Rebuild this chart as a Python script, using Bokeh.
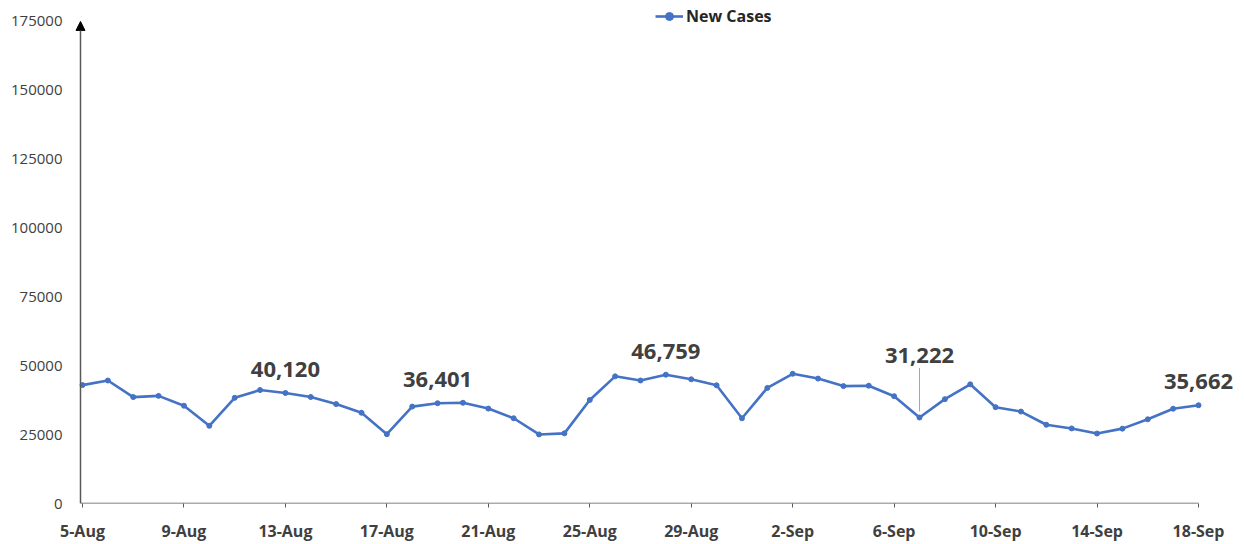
import pandas as pd
from bokeh.plotting import figure
from bokeh.models import (Range1d, FixedTicker, Arrow, NormalHead, Legend, LegendItem,
                          ColumnDataSource, BasicTickFormatter, LabelSet)
from bokeh.core.properties import value
from bokeh.embed import file_html
from bokeh.resources import INLINE

# ---- data ----
dates = [d.strftime("%-d-%b") for d in pd.date_range("2021-08-05", "2021-09-18", freq="D")]
new_cases = [42982, 44643, 38628, 39070, 35499, 28204, 38353, 41195, 40120, 38667,
             36083, 32937, 25166, 35178, 36401, 36571, 34457, 30948, 25072, 25467,
             37593, 46164, 44658, 46759, 45083, 42909, 30941, 41965, 47092, 45352,
             42618, 42766, 38948, 31222, 37875, 43263, 34973, 33376, 28591, 27254,
             25404, 27176, 30570, 34403, 35662]
tick_labels = ["5-Aug", "9-Aug", "13-Aug", "17-Aug", "21-Aug", "25-Aug", "29-Aug",
               "2-Sep", "6-Sep", "10-Sep", "14-Sep", "18-Sep"]
y_ticks = [0, 25000, 50000, 75000, 100000, 125000, 150000, 175000]
labeled_dates = ["13-Aug", "19-Aug", "28-Aug", "18-Sep"]
leader_date = "7-Sep"
series_name = "New Cases"

x = list(range(len(dates)))
tick_pos = [dates.index(t) for t in tick_labels]

BLUE = "#4472C4"
GREY = "#404040"
AXIS = "#595959"
FONT = "Open Sans"

# frame runs to the right edge so that the last data label is not clipped,
# and a few px left of the y-axis line so the arrow head is not clipped
px_per_day = 1116 / (len(dates) - 1)
x_axis_pos = -2 / px_per_day
x0 = -10 / px_per_day
x1 = x0 + 1172 / px_per_day
p = figure(width=1244, height=544, output_backend="svg", toolbar_location=None,
           x_range=Range1d(x0, x1), y_range=Range1d(0, 182600),
           min_border_left=72, min_border_right=0, min_border_top=0, min_border_bottom=40)
p.outline_line_color = None
p.grid.grid_line_color = None
p.background_fill_color = "white"
p.border_fill_color = "white"

src = ColumnDataSource(dict(x=x, y=new_cases))
ln = p.line("x", "y", source=src, line_color=BLUE, line_width=2.6)
sc = p.scatter("x", "y", source=src, marker="circle", size=5, fill_color=BLUE, line_color=BLUE)

# data labels
lab_idx = [dates.index(d) for d in labeled_dates]
lab_src = ColumnDataSource(dict(x=lab_idx, y=[new_cases[i] for i in lab_idx],
                                t=[f"{new_cases[i]:,}" for i in lab_idx]))
p.add_layout(LabelSet(x="x", y="y", text="t", source=lab_src, text_font=value(FONT),
                      text_font_style="bold", text_font_size="22px", text_color=GREY,
                      text_align="center", text_baseline="alphabetic", y_offset=16))

li = dates.index(leader_date)
lv = new_cases[li]
lead_src = ColumnDataSource(dict(x=[li], y=[lv], t=[f"{lv:,}"]))
p.segment(x0=li, y0=lv + 2200, x1=li, y1=lv + 18000, line_color="#a6a6a6", line_width=1)
p.add_layout(LabelSet(x="x", y="y", text="t", source=lead_src, text_font=value(FONT),
                      text_font_style="bold", text_font_size="22px", text_color=GREY,
                      text_align="center", text_baseline="alphabetic", y_offset=54))

# axes
xa = p.xaxis[0]
xa.ticker = FixedTicker(ticks=tick_pos)
xa.major_label_overrides = {pos: lab for pos, lab in zip(tick_pos, tick_labels)}
xa.minor_tick_line_color = None
xa.major_tick_in = 0
xa.major_tick_out = 4
xa.major_tick_line_color = AXIS
xa.axis_line_color = None
xa.major_label_standoff = 12
xa.major_label_text_font = FONT
xa.major_label_text_font_style = "bold"
xa.major_label_text_font_size = "16px"
xa.major_label_text_color = GREY

ya = p.yaxis[0]
ya.ticker = FixedTicker(ticks=y_ticks)
ya.formatter = BasicTickFormatter(use_scientific=False)
ya.minor_tick_line_color = None
ya.major_tick_line_color = None
ya.major_tick_in = 0
ya.major_tick_out = 0
ya.axis_line_color = None
ya.major_label_standoff = 10
ya.major_label_text_font = FONT
ya.major_label_text_font_size = "15px"
ya.major_label_text_color = GREY

# x-axis line ending at the last date, y-axis line with arrow head
p.add_layout(Arrow(end=None, x_start=x_axis_pos, y_start=0, x_end=x[-1], y_end=0,
                   line_color=AXIS, line_width=1.5))
p.add_layout(Arrow(end=NormalHead(size=9, fill_color="black", line_color="black"),
                   x_start=x_axis_pos, y_start=0, x_end=x_axis_pos, y_end=175000,
                   line_color=AXIS, line_width=1.5))

legend = Legend(items=[LegendItem(label=series_name, renderers=[ln, sc])],
                location=(583, 476), orientation="horizontal",
                border_line_color=None, background_fill_alpha=0,
                padding=0, margin=0, glyph_width=28, label_standoff=3,
                label_text_font=FONT, label_text_font_style="bold",
                label_text_font_size="16px", label_text_color="#262626")
p.add_layout(legend)

open("out.html", "w").write(file_html(p, INLINE))
